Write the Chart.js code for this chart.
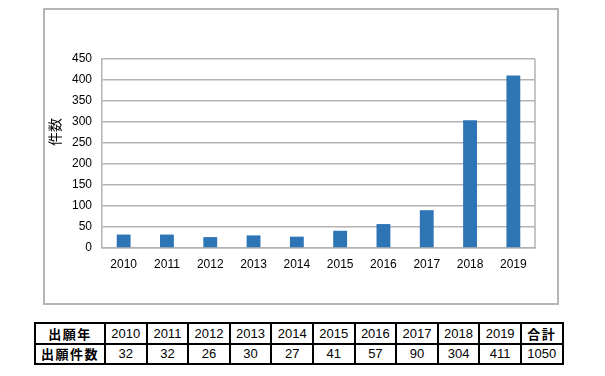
<!DOCTYPE html>
<html><head><meta charset="utf-8">
<script src="https://cdn.jsdelivr.net/npm/chart.js@4"></script>
<style>
html,body{margin:0;padding:0;background:#fff;width:605px;height:376px;overflow:hidden;}
#box{position:absolute;left:43px;top:8px;width:512px;height:293px;border:2px solid #b5b5b5;}
#wrap{position:absolute;left:0;top:0;width:605px;height:310px;}
#tbl{position:absolute;left:34px;top:322px;width:528px;table-layout:fixed;border-collapse:collapse;font-family:"Liberation Sans",Arial,sans-serif;font-size:13px;color:#000;}
#tbl td{border:2px solid #000;height:18.5px;padding:0;text-align:center;line-height:17px;}
#tbl td.h{font-family:"Noto Sans CJK JP","Liberation Sans",sans-serif;font-weight:bold;letter-spacing:1.5px;}
</style></head>
<body>
<div id="box"></div>
<div id="wrap"><canvas id="c" width="605" height="310"></canvas></div>
<table id="tbl"><colgroup id="cg"></colgroup><tr id="r1"></tr><tr id="r2"></tr></table>
<script>
const categories = ["2010","2011","2012","2013","2014","2015","2016","2017","2018","2019"];
const counts = [32, 32, 26, 30, 27, 41, 57, 90, 304, 411];
const totalLabel = "合計";
const totalValue = 1050;
const rowHeaders = ["出願年", "出願件数"];
const yTitle = "件数";

// table
const r1 = document.getElementById('r1'), r2 = document.getElementById('r2'), cg = document.getElementById('cg');
function col(w){const c=document.createElement('col');c.style.width=w+'px';cg.appendChild(c);}
col(70); for(let i=0;i<categories.length+1;i++) col(41.6);
function cell(row, txt, cls){const td=document.createElement('td');td.textContent=txt;if(cls)td.className=cls;row.appendChild(td);}
cell(r1, rowHeaders[0], 'h'); cell(r2, rowHeaders[1], 'h');
categories.forEach((c,i)=>{cell(r1,c);cell(r2,String(counts[i]));});
cell(r1,totalLabel,'h');
cell(r2,String(totalValue));

const frame = {
  id:'frame',
  afterDraw(chart){
    const {ctx, chartArea:a} = chart;
    ctx.save();
    ctx.strokeStyle='#b3b3b3'; ctx.lineWidth=1.5;
    ctx.beginPath(); ctx.moveTo(a.right, a.top); ctx.lineTo(a.right, a.bottom); ctx.stroke();
    ctx.translate(55, 132); ctx.rotate(-Math.PI/2);
    ctx.fillStyle='#000'; ctx.font='14px "Noto Sans CJK JP", sans-serif';
    ctx.textAlign='center'; ctx.textBaseline='middle';
    ctx.fillText(yTitle, 0, 0);
    ctx.restore();
  }
};

new Chart(document.getElementById('c'), {
  type:'bar',
  data:{labels:categories, datasets:[{data:counts, backgroundColor:'#2E75B6', borderWidth:0, categoryPercentage:1, barPercentage:0.32}]},
  options:{
    responsive:false, animation:false,
    layout:{padding:{left:0,right:70,top:59,bottom:32}},
    plugins:{legend:{display:false}, tooltip:{enabled:false}},
    scales:{
      x:{grid:{display:false, drawTicks:false}, border:{color:'#b3b3b3', width:1.5},
         ticks:{color:'#000', font:{family:'"Liberation Sans", Arial, sans-serif', size:12}, padding:9, maxRotation:0},
         afterFit(s){s.height=30;}},
      y:{min:0, max:450, grid:{color:'#b3b3b3', lineWidth:1.5, drawTicks:false}, border:{color:'#b3b3b3', width:1.5},
         ticks:{stepSize:50, color:'#000', font:{family:'"Liberation Sans", Arial, sans-serif', size:12}, padding:10},
         afterFit(s){s.width=102;}}
    }
  },
  plugins:[frame]
});
</script>
</body></html>
